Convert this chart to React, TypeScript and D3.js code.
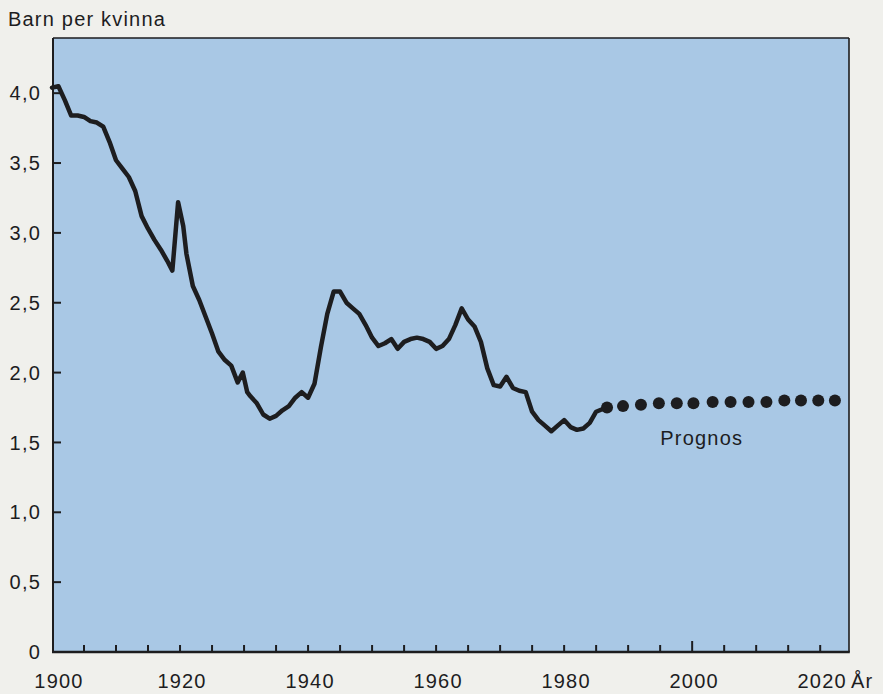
import React from "react";
import * as d3 from "d3";

// Historical total fertility (children per woman)
const histYears = [
  1900, 1901, 1902, 1903, 1904, 1905, 1906, 1907, 1908, 1909,
  1910, 1911, 1912, 1913, 1914, 1915, 1916, 1917, 1918, 1918.8,
  1919.7, 1920.5, 1921, 1922, 1923, 1924, 1925, 1926, 1927, 1928,
  1929, 1929.8, 1930.5, 1931, 1932, 1933, 1934, 1935, 1936, 1937,
  1938, 1939, 1940, 1941, 1942, 1943, 1944, 1945, 1946, 1947,
  1948, 1949, 1950, 1951, 1952, 1953, 1954, 1955, 1956, 1957,
  1958, 1959, 1960, 1961, 1962, 1963, 1964, 1965, 1966, 1967,
  1968, 1969, 1970, 1971, 1972, 1973, 1974, 1975, 1976, 1977,
  1978, 1979, 1980, 1981, 1982, 1983, 1984, 1985, 1986.6,
];
const histValues = [
  4.04, 4.05, 3.95, 3.84, 3.84, 3.83, 3.8, 3.79, 3.76, 3.65,
  3.52, 3.46, 3.4, 3.3, 3.12, 3.03, 2.95, 2.88, 2.8, 2.73,
  3.22, 3.05, 2.85, 2.62, 2.52, 2.4, 2.28, 2.15, 2.09, 2.05,
  1.93, 2.0, 1.86, 1.83, 1.78, 1.7, 1.67, 1.69, 1.73, 1.76,
  1.82, 1.86, 1.82, 1.92, 2.18, 2.42, 2.58, 2.58, 2.5, 2.46,
  2.42, 2.34, 2.25, 2.19, 2.21, 2.24, 2.17, 2.22, 2.24, 2.25,
  2.24, 2.22, 2.17, 2.19, 2.24, 2.34, 2.46, 2.38, 2.33, 2.22,
  2.03, 1.91, 1.9, 1.97, 1.89, 1.87, 1.86, 1.72, 1.66, 1.62,
  1.58, 1.62, 1.66, 1.61, 1.59, 1.6, 1.64, 1.72, 1.75,
];

// Forecast ("Prognos") dots
const forecastYears = [
  1986.7, 1989.2, 1992.0, 1994.8, 1997.6, 2000.2, 2003.2,
  2006.0, 2008.8, 2011.6, 2014.4, 2017.0, 2019.7, 2022.3,
];
const forecastValues = [
  1.75, 1.76, 1.77, 1.78, 1.78, 1.78, 1.79,
  1.79, 1.79, 1.79, 1.8, 1.8, 1.8, 1.8,
];

const yTicks = [0, 0.5, 1.0, 1.5, 2.0, 2.5, 3.0, 3.5, 4.0];
const xLabelYears = [1900, 1920, 1940, 1960, 1980, 2000, 2020];
const xMinorTicks = [
  1905, 1910, 1915, 1920, 1925, 1930, 1935, 1940, 1945, 1950, 1955, 1960,
  1965, 1970, 1975, 1980, 1985, 1990, 1995, 2000, 2005, 2010, 2015, 2020,
];

const W = 883;
const H = 694;
const INK = "#1d1d1f";
const FONT = "'Liberation Sans', Arial, Helvetica, sans-serif";
const FS = 20;
const LS = 1.2;

export default function App() {
  const left = 53;
  const right = 849;
  const top = 38;
  const bottom = 652;

  const x = d3.scaleLinear().domain([1900, 2024.5]).range([left - 1, right]);
  const y = d3.scaleLinear().domain([0, 4.395]).range([bottom, top]);

  const pts: [number, number][] = histYears.map((yr, i) => [yr, histValues[i]]);
  const line = d3
    .line<[number, number]>()
    .x((d) => x(d[0]))
    .y((d) => y(d[1]))
    .curve(d3.curveLinear);

  const fmt = (v: number) => (v === 0 ? "0" : v.toFixed(1).replace(".", ","));

  return (
    <svg
      width={W}
      height={H}
      style={{ position: "absolute", left: 0, top: 0, display: "block" }}
    >
      <rect x={0} y={0} width={W} height={H} fill="#f0f0ec" />
      <rect
        x={left}
        y={top}
        width={right - left}
        height={bottom - top}
        fill="#a9c8e5"
      />
      {/* frame */}
      <line x1={left} y1={top} x2={right} y2={top} stroke={INK} strokeWidth={1.6} />
      <line x1={right} y1={top} x2={right} y2={bottom} stroke={INK} strokeWidth={1.6} />
      <line x1={left} y1={top} x2={left} y2={bottom + 1} stroke={INK} strokeWidth={2} />
      <line x1={left - 1} y1={bottom} x2={right + 0.8} y2={bottom} stroke={INK} strokeWidth={2.4} />

      {/* y ticks and labels */}
      {yTicks.map((v) => (
        <g key={"y" + v}>
          {v > 0 && (
            <line
              x1={left}
              x2={left + 8}
              y1={y(v)}
              y2={y(v)}
              stroke={INK}
              strokeWidth={2}
            />
          )}
          <text
            x={41}
            y={y(v)}
            dy="0.36em"
            textAnchor="end"
            fontFamily={FONT}
            fontSize={FS}
            letterSpacing={LS}
            fill={INK}
          >
            {fmt(v)}
          </text>
        </g>
      ))}

      {/* x ticks */}
      {xMinorTicks.map((yr) => (
        <line
          key={"xt" + yr}
          x1={x(yr)}
          x2={x(yr)}
          y1={bottom}
          y2={bottom - (yr === 2000 ? 11 : 7)}
          stroke={INK}
          strokeWidth={2}
        />
      ))}
      {xLabelYears.map((yr) => (
        <text
          key={"xl" + yr}
          x={x(yr) + (yr === 1900 ? 7 : 2)}
          y={688}
          textAnchor="middle"
          fontFamily={FONT}
          fontSize={FS}
          letterSpacing={LS}
          fill={INK}
        >
          {yr}
        </text>
      ))}
      <text x={851} y={688} fontFamily={FONT} fontSize={FS} letterSpacing={LS} fill={INK}>
        År
      </text>

      {/* axis title */}
      <text x={8} y={26} fontFamily={FONT} fontSize={FS} letterSpacing={LS} fill={INK}>
        Barn per kvinna
      </text>

      {/* historical line */}
      <path
        d={line(pts) || ""}
        fill="none"
        stroke={INK}
        strokeWidth={4.5}
        strokeLinejoin="round"
        strokeLinecap="round"
      />

      {/* forecast dots */}
      {forecastYears.map((yr, i) => (
        <circle key={"f" + yr} cx={x(yr)} cy={y(forecastValues[i])} r={6} fill={INK} />
      ))}
      <text
        x={x(2001.5)}
        y={445}
        textAnchor="middle"
        fontFamily={FONT}
        fontSize={FS}
        letterSpacing={LS}
        fill={INK}
      >
        Prognos
      </text>
    </svg>
  );
}
